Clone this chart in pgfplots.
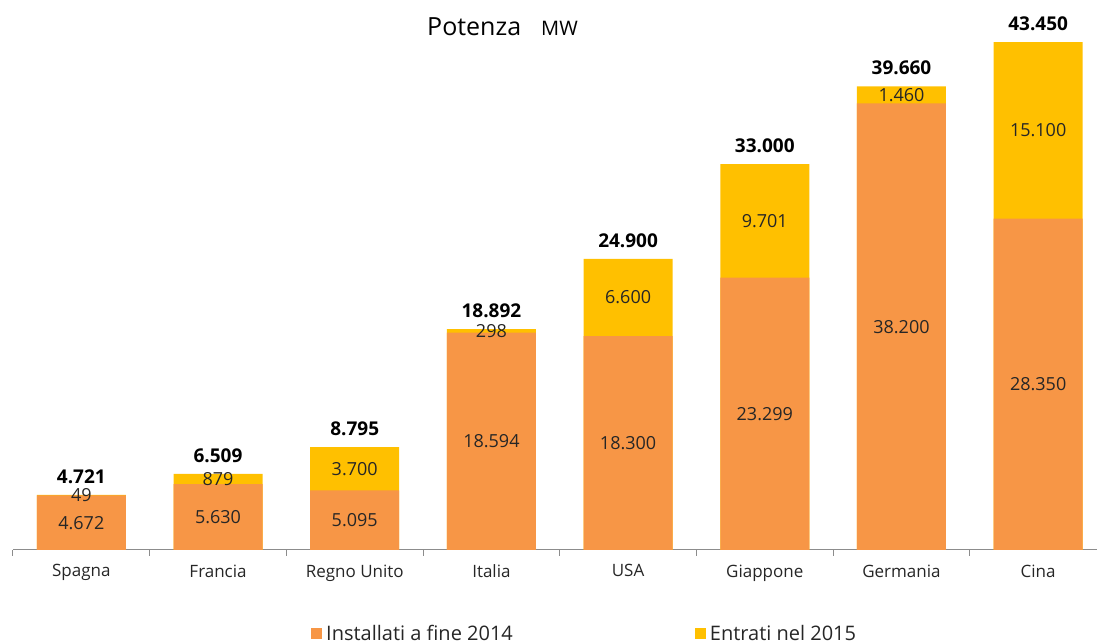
\documentclass[border=0pt]{standalone}
\usepackage{pgfplots}
\pgfplotsset{compat=1.18}
\usepackage{fontspec}
\setmainfont{Open Sans}
\definecolor{orangebar}{HTML}{F79646}
\definecolor{yellowbar}{HTML}{FFC000}
\definecolor{axisgray}{HTML}{8C8C8C}
\definecolor{txt}{HTML}{262626}
\begin{document}
\begin{tikzpicture}[x=1pt,y=1pt]
\useasboundingbox (0,0) rectangle (1097,644);
\begin{axis}[
  at={(13pt,94pt)}, anchor=south west,
  scale only axis, width=1093.6pt, height=537.8pt,
  xmin=-0.5, xmax=7.5, ymin=0, ymax=46000,
  axis y line=none, axis x line*=bottom,
  x axis line style={axisgray, line width=1pt},
  xtick={0,...,7},
  xticklabels={Spagna,Francia,Regno Unito,Italia,USA,Giappone,Germania,Cina},
  major tick length=0pt,
  minor xtick={-0.5,0.5,...,7.5},
  minor tick length=6pt,
  tick align=outside,
  minor tick style={axisgray, line width=1pt},
  xticklabel style={font=\fontsize{17}{17}\selectfont, text=txt, yshift=-11pt},
  clip=false,
  legend columns=2,
  legend image code/.code={\fill[#1,draw=none] (0pt,-5.5pt) rectangle (11pt,5.5pt);},
  legend style={draw=none, fill=none, at={(axis description cs:0.2725,-0.156)}, anchor=west,
    inner sep=0pt, font=\fontsize{20}{20}\selectfont, text=txt,
    /tikz/every even column/.append style={column sep=180pt},
    legend cell align=left},
]
\addlegendimage{fill=orangebar}
\addlegendentry{\hspace{2pt}Installati a fine 2014}
\addlegendimage{fill=yellowbar}
\addlegendentry{\hspace{2pt}Entrati nel 2015}

% totals (yellow) drawn first
\addplot[ybar, bar width=89pt, bar shift=0pt, fill=yellowbar, draw=none, forget plot,
  point meta=explicit symbolic, nodes near coords,
  every node near coord/.append style={font=\bfseries\fontsize{19}{19}\selectfont, text=black, anchor=south, yshift=8pt}]
  coordinates {(0,4721)[4.721] (1,6509)[6.509] (2,8795)[8.795] (3,18892)[18.892]
               (4,24900)[24.900] (5,33000)[33.000] (6,39660)[39.660] (7,43450)[43.450]};
% installed at end of 2014 (orange)
\addplot[ybar, bar width=89pt, bar shift=0pt, fill=orangebar, draw=none, forget plot]
  coordinates {(0,4672) (1,5630) (2,5095) (3,18594) (4,18300) (5,23299) (6,38200) (7,28350)};
% labels for orange segments
\addplot[draw=none, mark=none, forget plot, point meta=explicit symbolic, nodes near coords,
  nodes near coords align=center,
  every node near coord/.append style={font=\fontsize{18}{18}\selectfont, text=txt, anchor=center}]
  coordinates {(0,2336)[4.672] (1,2815)[5.630] (2,2547.5)[5.095] (3,9297)[18.594]
               (4,9150)[18.300] (5,11649.5)[23.299] (6,19100)[38.200] (7,14175)[28.350]};
% labels for yellow segments
\addplot[draw=none, mark=none, forget plot, point meta=explicit symbolic, nodes near coords,
  nodes near coords align=center,
  every node near coord/.append style={font=\fontsize{18}{18}\selectfont, text=txt, anchor=center}]
  coordinates {(0,4696.5)[49] (1,6069.5)[879] (2,6945)[3.700] (3,18743)[298]
               (4,21600)[6.600] (5,28149.5)[9.701] (6,38930)[1.460] (7,35900)[15.100]};
\end{axis}
\node[anchor=base west, inner sep=0pt, font=\fontsize{25}{25}\selectfont, text=black] at (427,608) {Potenza};
\node[anchor=base west, inner sep=0pt, font=\fontsize{20}{20}\selectfont, text=black] at (541,608) {MW};
\end{tikzpicture}
\end{document}
